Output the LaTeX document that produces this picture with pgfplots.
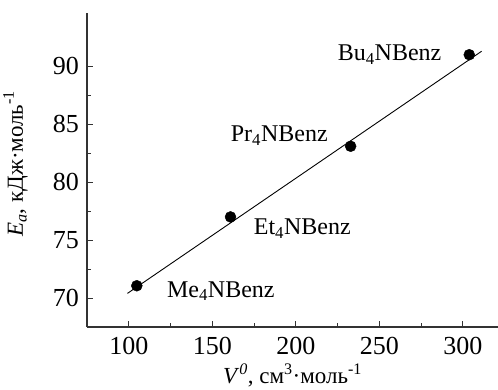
\documentclass[border=0pt]{standalone}
\usepackage{fontspec}
\setmainfont{Liberation Serif}
\usepackage{pgfplots}
\pgfplotsset{compat=1.18}
\begin{document}
\fontsize{24bp}{28bp}\selectfont
\begin{tikzpicture}
\begin{axis}[
  at={(0,0)}, anchor=south west,
  scale only axis, width=411bp, height=314bp,
  xmin=75, xmax=321, ymin=67.5, ymax=94.6,
  axis x line=bottom, axis y line=left,
  axis line style={-, line width=1.1pt, draw=black!80},
  tick style={line width=0.9pt, draw=black!80},
  tick align=inside,
  major tick length=6bp, minor tick length=4bp,
  xtick={100,150,200,250,300}, ytick={70,75,80,85,90},
  minor x tick num=1, minor y tick num=1,
  /pgf/number format/assume math mode=true,
  tick label style={font=\fontsize{26bp}{30bp}\selectfont},
  xticklabel style={yshift=-2bp},
  xlabel={\textit{V}\textsuperscript{\textit{0}}, см\textsuperscript{3}·моль\textsuperscript{-1}},
  ylabel={\textit{E}\textsubscript{\textit{a}}, кДж·моль\textsuperscript{-1}},
  label style={font=\fontsize{23bp}{27bp}\selectfont},
  xlabel style={at={(axis description cs:0.5,0)}, anchor=base, yshift=-56bp},
  ylabel style={at={(axis description cs:-0.124,0.52)}, anchor=south, rotate=0},
  clip=false,
]
\addplot[black, line width=0.9pt] coordinates {(99.2,70.4) (311.2,91.3)};
\addplot[only marks, mark=*, mark size=5.5bp, black] coordinates {
(104.8,71.06) (160.9,77.0) (232.8,83.1) (303.8,91.0)};
\node[anchor=west, font=\fontsize{24bp}{28bp}\selectfont] at (axis cs:118,70.6) {Me\textsubscript{4}NBenz};
\node[anchor=west, font=\fontsize{24bp}{28bp}\selectfont] at (axis cs:170,76.0) {Et\textsubscript{4}NBenz};
\node[anchor=east, font=\fontsize{24bp}{28bp}\selectfont] at (axis cs:224,84.0) {Pr\textsubscript{4}NBenz};
\node[anchor=east, font=\fontsize{24bp}{28bp}\selectfont] at (axis cs:292,91.0) {Bu\textsubscript{4}NBenz};
\end{axis}
\pgfresetboundingbox
\path[use as bounding box] (-87bp,-63bp) rectangle (411bp,327bp);
\end{tikzpicture}
\end{document}
